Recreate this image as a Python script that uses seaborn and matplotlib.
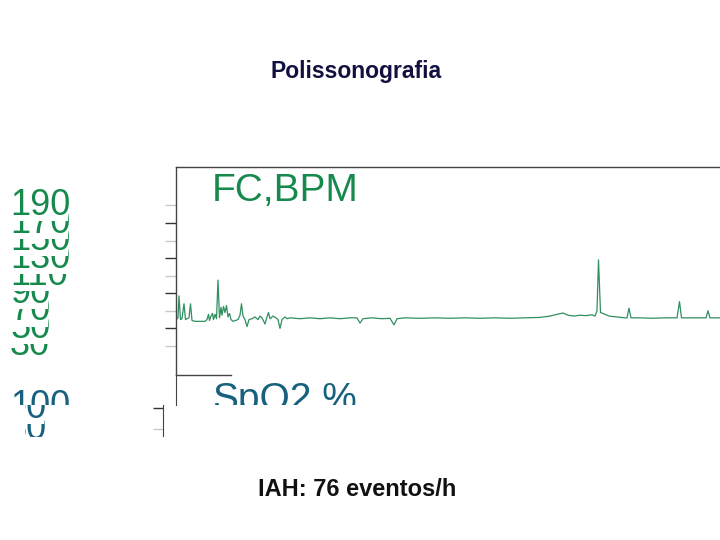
"""
Polissonografia slide: heart-rate trace (FC) with the SpO2 panel header below.
"""

import matplotlib.pyplot as plt
import pandas as pd
import seaborn as sns
from matplotlib.transforms import Bbox, TransformedBbox

# heart rate trace: minutes from start of recording, beats per minute
fc_minutes = [0, 2, 3, 4.5, 6, 8, 9.5, 11, 13, 14.5, 16, 19, 29, 31, 32.5, 33.5,
              35, 36.5, 37.5, 39, 40.5, 42, 43.5, 45, 46, 47.5, 49, 50.5, 52,
              53.5, 55, 57, 62, 64, 65.5, 67, 69, 71, 73, 76, 79, 82, 84, 86,
              89, 91, 92.5, 94, 97, 100, 102, 104, 106, 109, 111, 114, 124, 134,
              144, 154, 164, 174, 181, 184, 187, 196, 206, 214, 218, 221, 229,
              244, 259, 274, 289, 304, 319, 334, 349, 364, 374, 381, 387, 392,
              398, 404, 410, 416, 419, 421, 422.5, 424.5, 427, 433, 441, 449,
              451, 453, 455, 464, 476, 489, 501, 503.5, 505.5, 516, 530, 532,
              534, 549]
fc_bpm = [60, 62, 87, 60, 61, 78, 60, 61, 62, 78, 59, 58, 58, 60, 66, 59,
          64, 67, 60, 66, 61, 105, 62, 74, 65, 75, 68, 76, 63,
          67, 60, 58, 60, 65, 78, 64, 60, 52, 60, 61, 63, 60, 64, 62,
          55, 63, 68, 61, 64, 62, 60, 50, 60, 63, 61, 62, 61, 62,
          61, 62, 61, 62, 62, 56, 61, 62, 61, 61.5, 54, 61, 62,
          61.5, 62, 61.5, 62, 61.5, 62, 61.5, 62, 62.5, 64, 66, 67.5, 65,
          64, 65, 64.5, 65.5, 64, 70, 128, 68, 67, 64, 63, 62,
          62, 73, 62, 62, 61.5, 62, 62, 80.5, 62, 62, 62, 70,
          62, 62]

fc_major_ticks = [170, 130, 90, 50]
fc_minor_ticks = [190, 150, 110, 70, 30]
fc_tick_labels = [30, 50, 70, 90, 110, 130, 150, 170, 190]
spo2_top_label = 100
spo2_lower_labels = [80, 90]

title = "Polissonografia"
footer = "IAH: 76 eventos/h"
fc_name = "FC,BPM"
spo2_name = "SpO2.%"

GREEN = "#16894d"
TRACE = "#2f8f5f"
BLUE = "#17617f"

W, H = 720, 540


def px_box(x0, y0, x1, y1):
    """Axes rectangle from pixel corners (origin top-left)."""
    return [x0 / W, 1 - y1 / H, (x1 - x0) / W, (y1 - y0) / H]


def px_clip(fig, x0, y0, x1, y1):
    bb = Bbox.from_extents(x0 / W, 1 - y1 / H, x1 / W, 1 - y0 / H)
    return TransformedBbox(bb, fig.transFigure)


sns.set_style("white")
plt.rcParams["font.family"] = ["Liberation Sans", "DejaVu Sans"]

fig = plt.figure(figsize=(7.2, 5.4), dpi=100)
fig.patch.set_facecolor("white")

fig.text(356.5 / W, 1 - 78 / H, title, ha="center", va="baseline",
         fontsize=16.5, fontweight="bold", color="#111140")
fig.text(357.5 / W, 1 - 496 / H, footer, ha="center", va="baseline",
         fontsize=17, fontweight="bold", color="#111111")

# --- heart rate panel
ax_fc = fig.add_axes(px_box(176, 167, 720, 375))
df = pd.DataFrame({"min": fc_minutes, "bpm": fc_bpm})
sns.lineplot(data=df, x="min", y="bpm", ax=ax_fc, color=TRACE, linewidth=0.9)
ax_fc.set_xlim(0, 544)
ax_fc.set_ylim(-3.1, 233.8)
ax_fc.set_xlabel("")
ax_fc.set_ylabel("")
ax_fc.set_xticks([])
ax_fc.set_yticks(fc_major_ticks)
ax_fc.set_yticks(fc_minor_ticks, minor=True)
ax_fc.tick_params(axis="y", which="major", left=True, length=7.7, width=1,
                  color="#333333", labelleft=False)
ax_fc.tick_params(axis="y", which="minor", left=True, length=7.7, width=1,
                  color="#c8c8c8", labelleft=False)
for side in ["left", "top", "bottom"]:
    ax_fc.spines[side].set_color("#444444")
    ax_fc.spines[side].set_linewidth(1)
ax_fc.spines["right"].set_visible(False)
ax_fc.spines["bottom"].set_bounds(0, 55)

ax_fc.text(0.066, 0.837, fc_name, transform=ax_fc.transAxes, ha="left",
           va="baseline", fontsize=28, color=GREEN)

# stacked tick labels: higher ones drawn on top and mask the ones below
lab_x = (10 - 176) / 544
for i, v in enumerate(fc_tick_labels):
    ax_fc.text(lab_x, v, str(v), transform=ax_fc.get_yaxis_transform(),
               ha="left", va="center", fontsize=26, color=GREEN, zorder=3 + i,
               bbox=dict(boxstyle="square,pad=-0.05", fc="white", ec="none"))

# --- SpO2 panel header (cut off at the bottom)
ax_sp = fig.add_axes(px_box(176, 375, 720, 405))
ax_sp.set_xlim(0, 544)
ax_sp.set_ylim(101, 116)
ax_sp.set_xticks([])
ax_sp.set_yticks([])
ax_sp.patch.set_alpha(0)
for side in ["top", "right", "bottom"]:
    ax_sp.spines[side].set_visible(False)
ax_sp.spines["left"].set_color("#444444")
ax_sp.text(0.066, -0.16, spo2_name, transform=ax_sp.transAxes, ha="left",
           va="baseline", fontsize=28, color=BLUE, clip_on=True)
t = ax_sp.text(lab_x, spo2_top_label, str(spo2_top_label),
               transform=ax_sp.get_yaxis_transform(), ha="left", va="center",
               fontsize=26, color=BLUE, zorder=10)
t.set_clip_box(px_clip(fig, 0, 360, 176, 405))
t.set_clip_on(True)

# --- lower fragment of the SpO2 scale
ax_lo = fig.add_axes(px_box(163, 405, 165, 436))
ax_lo.set_ylim(76.65, 91.65)
ax_lo.set_xticks([])
ax_lo.set_yticks([90])
ax_lo.set_yticks([80], minor=True)
ax_lo.tick_params(axis="y", which="major", left=True, length=7.5, width=1,
                  color="#333333", labelleft=False)
ax_lo.tick_params(axis="y", which="minor", left=True, length=7.5, width=1,
                  color="#c8c8c8", labelleft=False)
ax_lo.patch.set_alpha(0)
for side in ["top", "right", "bottom"]:
    ax_lo.spines[side].set_visible(False)
ax_lo.spines["left"].set_color("#444444")
lo_x = (6 - 163) / 2
clip_lo = px_clip(fig, 25, 405, 160, 437)
for i, v in enumerate(spo2_lower_labels):
    t = ax_lo.text(lo_x, v, str(v), transform=ax_lo.get_yaxis_transform(),
                   ha="left", va="center", fontsize=26, color=BLUE, zorder=3 + i,
                   bbox=dict(boxstyle="square,pad=-0.05", fc="white", ec="none"))
    t.set_clip_box(clip_lo)
    t.set_clip_on(True)

fig.savefig("out.png", dpi=100, facecolor="white")
